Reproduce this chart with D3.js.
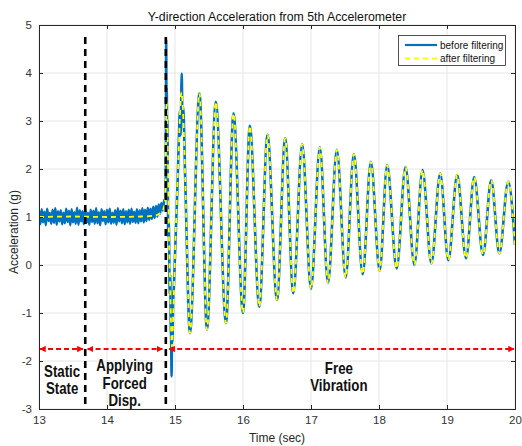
<!DOCTYPE html>
<html><head><meta charset="utf-8">
<script src="https://cdn.jsdelivr.net/npm/d3@7"></script>
<style>
body{margin:0;background:#fff;}
svg{display:block;font-family:Arial,"Liberation Sans",sans-serif;}
</style></head>
<body>
<svg id="c" width="522" height="446"></svg>
<script>
// ---------- data ----------
const title = "Y-direction Acceleration from 5th Accelerometer";
const xLabel = "Time (sec)";
const yLabel = "Acceleration (g)";
const xTicks = [13,14,15,16,17,18,19,20];
const yTicks = [-3,-2,-1,0,1,2,3,4,5];
const legendLabels = ["before filtering","after filtering"];

// static / forced displacement segment (sampled every 0.02 s from 13.00 s)
const staticStart = 13.0, staticDt = 0.02;
const staticRaw = [1.13,0.85,1.16,0.89,1.11,0.83,1.17,0.92,1.08,0.86,
  1.15,0.88,1.18,0.84,1.12,0.91,1.14,0.85,1.09,0.87,
  1.17,0.90,1.13,0.83,1.16,0.89,1.10,0.86,1.19,0.84,
  1.14,0.91,1.12,0.85,1.17,0.88,1.09,0.84,1.15,0.90,
  1.13,0.86,1.18,0.87,1.10,0.83,1.16,0.92,1.12,0.85,
  1.15,0.89,1.17,0.86,1.09,0.88,1.14,0.84,1.18,0.91,
  1.13,0.87,1.16,0.85,1.12,0.89,1.15,0.86,1.17,0.90,
  1.11,0.88,1.16,0.87,1.14,0.91,1.18,0.89,1.15,0.92,
  1.19,0.94,1.17,0.96,1.21,0.98,1.23,1.01,1.26,1.07,
  1.29,1.14,1.33,1.40];
const staticFiltTime = [13.0, 13.5, 14.0, 14.5, 14.7, 14.78, 14.82, 14.85];
const staticFiltVal  = [1.00, 1.01, 1.00, 1.01, 1.03, 1.08, 1.14, 1.30];

// release transient (before filtering)
const transRawTime = [14.866,14.870,14.875,14.879,14.884,14.889,14.895,14.901,14.908,14.915,14.922,14.930,14.937,14.944,14.950,14.956,14.963,14.972,14.985,15.000,15.020,15.040,15.060,15.072,15.082,15.099,15.110,15.120,15.150];
const transRawVal  = [2.20, 4.69, 3.20, 3.70, 2.60, 3.00, 1.60, 0.60, 0.90, 0.30, -0.60, -0.20, -1.20, -1.60, -2.32, -1.30, -1.60, -0.80, -0.40, 0.20, 1.00, 1.80, 2.80, 3.20, 2.70, 3.99, 3.00, 3.30, 1.80];
// release transient (after filtering)
const transFiltTime = [14.860,14.875,14.890,14.910,14.930,14.955,14.975,15.000,15.050,15.095,15.115,15.150];
const transFiltVal  = [1.50, 3.40, 2.80, 0.70, -0.50, -1.70, -1.00, 0.20, 2.20, 3.60, 3.30, 1.80];

// free vibration extrema
const peakTime = [15.36,15.60,15.86,16.10,16.36,16.62,16.87,17.13,17.38,17.63,17.88,18.12,18.39,18.64,18.90,19.15,19.40,19.65,19.90];
const peakVal  = [3.58,3.40,3.16,2.90,2.71,2.64,2.52,2.45,2.40,2.31,2.15,2.08,2.04,1.98,1.91,1.88,1.83,1.77,1.74];
const troughTime = [15.22,15.47,15.75,16.00,16.24,16.50,16.74,17.00,17.25,17.51,17.76,18.01,18.26,18.52,18.77,19.02,19.28,19.53,19.77,20.00];
const troughVal  = [-1.42,-1.35,-1.21,-1.00,-0.87,-0.73,-0.59,-0.50,-0.38,-0.26,-0.19,-0.12,-0.07,0.00,0.03,0.10,0.14,0.21,0.24,0.42];

// annotations
const phaseLines = [13.68, 14.865];
const phaseLineTop = 4.75;
const arrowLevel = -1.75;
const arrowSpans = [[13.0,13.66],[13.70,14.83],[14.90,20.0]];
const phaseText = [
  {x:13.34, lines:["Static","State"]},
  {x:14.26, lines:["Applying","Forced","Disp."]},
  {x:17.41, lines:["Free","Vibration"]}
];
const textTop = [-2.33, -2.21, -2.27];

// ---------- drawing ----------
const svg = d3.select("#c");
const L=39, R=515, T=25, B=409;
const x = d3.scaleLinear().domain([13,20]).range([L,R]);
const y = d3.scaleLinear().domain([-3,5]).range([B,T]);

// grid
const grid = svg.append("g");
grid.selectAll("line.vx").data(xTicks).join("line")
  .attr("x1",d=>x(d)).attr("x2",d=>x(d)).attr("y1",T).attr("y2",B)
  .attr("stroke","#e6e6e6").attr("stroke-width",1);
grid.selectAll("line.hy").data(yTicks).join("line")
  .attr("x1",L).attr("x2",R).attr("y1",d=>y(d)).attr("y2",d=>y(d))
  .attr("stroke","#e6e6e6").attr("stroke-width",1);

// series
const rawPts = staticRaw.map((v,i)=>[staticStart+i*staticDt, v])
  .concat(transRawTime.map((t,i)=>[t,transRawVal[i]]));
const filtPts = staticFiltTime.map((t,i)=>[t,staticFiltVal[i]])
  .concat(transFiltTime.map((t,i)=>[t,transFiltVal[i]]));
const ext = peakTime.map((t,i)=>[t,peakVal[i]]).concat(troughTime.map((t,i)=>[t,troughVal[i]]))
  .sort((a,b)=>a[0]-b[0]);
const rawAll = rawPts.concat(ext);
const filtAll = filtPts.concat(ext);

svg.append("clipPath").attr("id","clip").append("rect")
  .attr("x",L).attr("y",T).attr("width",R-L).attr("height",B-T);

const lineRaw = d3.line().x(d=>x(d[0])).y(d=>y(d[1])).curve(d3.curveMonotoneX);
const plot = svg.append("g").attr("clip-path","url(#clip)");
plot.append("path").datum(rawAll).attr("d",lineRaw)
  .attr("fill","none").attr("stroke","#0072BD").attr("stroke-width",2.6)
  .attr("stroke-linejoin","round");
plot.append("path").datum(filtAll).attr("d",lineRaw)
  .attr("fill","none").attr("stroke","#ffff00").attr("stroke-width",1.8)
  .attr("stroke-dasharray","5,4");

// axes
const fmt = d => String(d);
const axG = svg.append("g");
axG.append("g").attr("transform",`translate(0,${B})`)
  .call(d3.axisBottom(x).tickValues(xTicks).tickSize(-4).tickPadding(7).tickFormat(fmt));
axG.append("g").attr("transform",`translate(${L},0)`)
  .call(d3.axisLeft(y).tickValues(yTicks).tickSize(-4).tickPadding(7).tickFormat(fmt));
axG.append("g").attr("transform",`translate(0,${T})`)
  .call(d3.axisTop(x).tickValues(xTicks).tickSize(-4).tickFormat(""));
axG.append("g").attr("transform",`translate(${R},0)`)
  .call(d3.axisRight(y).tickValues(yTicks).tickSize(-4).tickFormat(""));
axG.selectAll(".domain").attr("stroke","#262626").attr("stroke-width",1);
axG.selectAll(".tick line").attr("stroke","#262626");
axG.selectAll(".tick text").attr("fill","#333").style("font-size","11.5px");

// phase dashed lines
svg.selectAll("line.phase").data(phaseLines).join("line")
  .attr("x1",d=>x(d)).attr("x2",d=>x(d)).attr("y1",y(phaseLineTop)).attr("y2",B)
  .attr("stroke","#000").attr("stroke-width",2.6).attr("stroke-dasharray","7,5");

// red arrows
const defs = svg.append("defs");
defs.append("marker").attr("id","ah").attr("viewBox","0 0 10 10").attr("refX",9).attr("refY",5)
  .attr("markerWidth",3.2).attr("markerHeight",3.2).attr("orient","auto-start-reverse")
  .attr("markerUnits","strokeWidth")
  .append("path").attr("d","M0,0 L10,5 L0,10 z").attr("fill","#ff0000");
svg.selectAll("line.arr").data(arrowSpans).join("line")
  .attr("x1",d=>x(d[0])+1).attr("x2",d=>x(d[1])-1).attr("y1",y(arrowLevel)).attr("y2",y(arrowLevel))
  .attr("stroke","#ff0000").attr("stroke-width",2).attr("stroke-dasharray","5,3")
  .attr("marker-start","url(#ah)").attr("marker-end","url(#ah)");

// phase labels (condensed bold)
phaseText.forEach((p,k)=>{
  p.lines.forEach((s,i)=>{
    svg.append("text").attr("text-anchor","middle")
      .attr("transform",`translate(${x(p.x)},${y(textTop[k])+i*17.5}) scale(0.83,1)`)
      .style("font-weight","bold").style("font-size","16px").attr("fill","#111").text(s);
  });
});

// legend
const lg = svg.append("g");
lg.append("rect").attr("x",398.5).attr("y",35.5).attr("width",107).attr("height",30)
  .attr("fill","#fff").attr("stroke","#262626").attr("stroke-width",0.8);
lg.append("line").attr("x1",405).attr("x2",437).attr("y1",45).attr("y2",45)
  .attr("stroke","#0072BD").attr("stroke-width",2.2);
lg.append("line").attr("x1",405).attr("x2",437).attr("y1",58.5).attr("y2",58.5)
  .attr("stroke","#ffff00").attr("stroke-width",1.8).attr("stroke-dasharray","5,4");
lg.selectAll("text").data(legendLabels).join("text")
  .attr("x",440).attr("y",(d,i)=>48.5+i*13.5).text(d=>d)
  .style("font-size","10px").attr("fill","#111");

// titles
svg.append("text").attr("x",277).attr("y",20.5).attr("text-anchor","middle")
  .style("font-size","12.3px").attr("fill","#111").text(title);
svg.append("text").attr("x",277).attr("y",442).attr("text-anchor","middle")
  .style("font-size","12px").attr("fill","#262626").text(xLabel);
svg.append("text").attr("transform","translate(18,232) rotate(-90)").attr("text-anchor","middle")
  .style("font-size","12px").attr("fill","#262626").text(yLabel);
</script>
</body></html>
